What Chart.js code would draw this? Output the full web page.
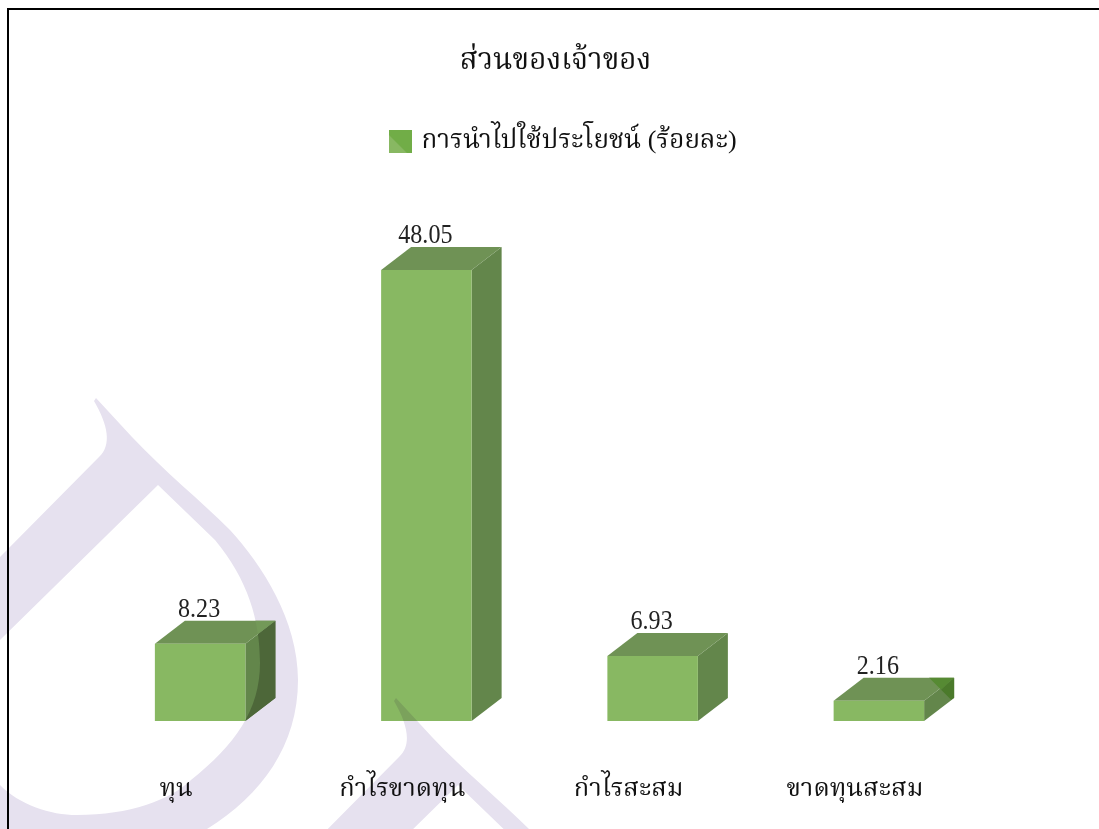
<!DOCTYPE html>
<html lang="th">
<head>
<meta charset="utf-8">
<title>ส่วนของเจ้าของ</title>
<script src="https://cdn.jsdelivr.net/npm/chart.js@4"></script>
<style>
html,body{margin:0;padding:0;background:#fff;width:1099px;height:829px;overflow:hidden}
#wrap{position:relative;width:1099px;height:829px}
canvas{position:absolute;left:0;top:0}
#frame{position:absolute;left:7px;top:8px;right:-4px;bottom:-4px;border:2px solid #000;pointer-events:none}
</style>
</head>
<body>
<div id="wrap">
<canvas id="c" width="1099" height="829"></canvas>
<div id="frame"></div>
</div>
<script>
const chartTitle = 'ส่วนของเจ้าของ';
const seriesName = 'การนำไปใช้ประโยชน์ (ร้อยละ)';
const categories = ['ทุน', 'กำไรขาดทุน', 'กำไรสะสม', 'ขาดทุนสะสม'];
const values = [8.23, 48.05, 6.93, 2.16];

const FONT = '"Liberation Serif", "Noto Serif Thai", serif';
const FRONT = '#88b862', SIDE = '#63864b', TOP = '#6f9255', SIDE_WM = '#55753d', TOP_WM = '#7fae5e';
const DX = 30, DY = -23;

function dropPath(ox, oy) {
  const p = new Path2D();
  const T = (x, y) => [x + ox, y + oy];
  const M = (x, y) => p.moveTo(...T(x, y));
  const L = (x, y) => p.lineTo(...T(x, y));
  const C = (a, b, c, d, e, f) => p.bezierCurveTo(...T(a, b), ...T(c, d), ...T(e, f));
  M(94, 401); L(96, 398);
  L(132, 437);
  C(165, 472, 200, 500, 230, 530);
  C(262, 565, 298, 620, 298, 680);
  C(298, 745, 262, 795, 207, 829);
  L(0, 829); L(0, 785);
  C(20, 805, 50, 815, 77, 815);
  C(130, 815, 170, 800, 191, 780);
  C(235, 745, 260, 710, 260, 663);
  C(260, 620, 248, 580, 215, 540);
  L(158, 485); L(0, 640); L(0, 557);
  L(99, 457);
  C(112, 445, 108, 425, 94, 401);
  p.closePath();
  return p;
}
const drops = [dropPath(0, 0), dropPath(300, 300)];

const legendSwatch = (() => {
  const s = document.createElement('canvas'); s.width = 23; s.height = 23;
  const g = s.getContext('2d');
  g.fillStyle = '#71ad47'; g.fillRect(0, 0, 23, 23);
  g.fillStyle = '#88b862'; g.beginPath(); g.moveTo(0, 5); g.lineTo(18, 23); g.lineTo(0, 23); g.closePath(); g.fill();
  return s;
})();

const box3d = {
  id: 'box3d',
  afterLayout(chart) {
    chart.titleBlock.left += 16; chart.titleBlock.right += 16;
    chart.legend.left += 25; chart.legend.right += 25;
    chart.legend.top -= 87.2; chart.legend.bottom -= 87.2;
  },
  beforeDatasetsDraw(chart) {
    const ctx = chart.ctx;
    const poly = (pts, col) => {
      ctx.fillStyle = col; ctx.beginPath();
      pts.forEach((q, i) => i ? ctx.lineTo(q[0], q[1]) : ctx.moveTo(q[0], q[1]));
      ctx.closePath(); ctx.fill();
    };
    const bars = chart.getDatasetMeta(0).data;
    bars.forEach((b) => {
      const l = b.x - b.width / 2, r = b.x + b.width / 2, t = b.y, B = b.base;
      const side = [[r, t], [r + DX, t + DY], [r + DX, B + DY], [r, B]];
      const top = [[l, t], [l + DX, t + DY], [r + DX, t + DY], [r, t]];
      poly(side, SIDE); poly(top, TOP);
      ctx.save();
      ctx.clip(drops[0]);
      poly(side, SIDE_WM); poly(top, TOP_WM);
      ctx.restore();
    });
    const last = bars[bars.length - 1];
    const cx = last.x + last.width / 2 + DX, cy = last.y + DY;
    poly([[cx - 25, cy], [cx, cy], [cx - 13, cy + 12]], '#568a33');
    poly([[cx, cy], [cx, cy + 20], [cx - 3, cy + 22], [cx - 13, cy + 12]], '#4b7a2b');
  },
  afterDatasetsDraw(chart) {
    const ctx = chart.ctx;
    ctx.save();
    ctx.font = '28px ' + FONT;
    ctx.fillStyle = '#222';
    ctx.textAlign = 'center';
    ctx.textBaseline = 'middle';
    chart.getDatasetMeta(0).data.forEach((b, i) => {
      ctx.save();
      ctx.translate(b.x - 1, b.y - 34.5);
      ctx.scale(0.86, 1);
      ctx.fillText(values[i].toFixed(2), 0, 0);
      ctx.restore();
    });
    ctx.restore();
  },
  afterDraw(chart) {
    const ctx = chart.ctx;
    ctx.save();
    ctx.globalCompositeOperation = 'multiply';
    ctx.fillStyle = '#e6e1ef';
    drops.forEach((d) => ctx.fill(d));
    ctx.restore();
  }
};

new Chart(document.getElementById('c'), {
  type: 'bar',
  data: {
    labels: categories,
    datasets: [{
      label: seriesName,
      data: values,
      backgroundColor: FRONT,
      barPercentage: 0.4,
      categoryPercentage: 1,
      pointStyle: legendSwatch
    }]
  },
  options: {
    responsive: false,
    animation: false,
    devicePixelRatio: 1,
    layout: { padding: { left: 87, right: 107, top: 43, bottom: 0 } },
    plugins: {
      tooltip: { enabled: false },
      title: {
        display: true,
        text: chartTitle,
        color: '#111',
        font: { family: FONT, size: 29.5, weight: 'normal', lineHeight: 36 / 29.5 },
        padding: { top: 0, bottom: 0 }
      },
      legend: {
        display: true,
        position: 'top',
        labels: {
          usePointStyle: true,
          pointStyleWidth: 16,
          color: '#111',
          font: { family: FONT, size: 26 },
          padding: 136.7
        }
      }
    },
    scales: {
      x: {
        afterFit(s) { s.height = 108; },
        grid: { display: false },
        border: { display: false },
        ticks: {
          color: '#111',
          font: { family: FONT, size: 25.5 },
          labelOffset: -24,
          padding: 45,
          maxRotation: 0
        }
      },
      y: { display: false, min: 0, max: 50 }
    }
  },
  plugins: [box3d]
});
</script>
</body>
</html>
